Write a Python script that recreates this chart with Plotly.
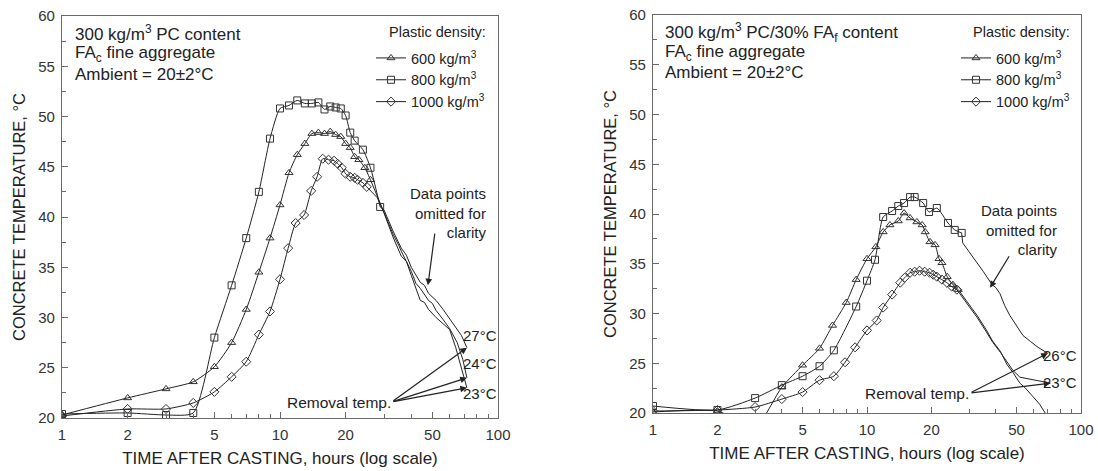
import math
import plotly.graph_objects as go

# ---------------- data: 300 kg/m3 PC (left panel) ----------------
# marked readings (hours, °C)
pc_600_t = [1, 2, 3, 4, 5, 6, 7, 8, 9, 10, 11, 12, 13, 14, 15, 16, 17, 18, 19, 20, 21, 22, 23, 24.5, 26]
pc_600_T = [20.3, 22.0, 22.9, 23.6, 25.1, 27.5, 30.8, 34.5, 37.9, 41.2, 44.4, 46.2, 47.3, 48.3, 48.4,
            48.3, 48.5, 48.2, 48.0, 47.3, 46.9, 46.0, 45.7, 44.9, 43.7]
pc_800_t = [1, 2, 3, 4, 5, 6, 7, 8, 9, 10, 11, 12, 13, 14, 15, 16, 17, 18, 19, 20, 21, 22, 24, 26, 28.8]
pc_800_T = [20.4, 20.5, 20.3, 20.5, 28.0, 33.2, 37.9, 42.5, 47.8, 50.8, 51.1, 51.6, 51.3, 51.3, 51.4,
            50.7, 51.0, 50.9, 50.8, 50.1, 48.4, 47.6, 46.7, 44.9, 41.0]
pc_1000_t = [1, 2, 3, 4, 5, 6, 7, 8, 9, 10, 10.9, 11.8, 12.9, 13.9, 14.8, 15.7, 16.7, 17.7, 18.4, 19.2,
             20, 21, 22, 22.7, 24, 25]
pc_1000_T = [20.2, 20.9, 20.9, 21.5, 22.6, 24.1, 25.6, 28.3, 30.6, 33.8, 36.9, 39.4, 40.2, 42.6, 44.0,
             45.8, 45.7, 45.6, 45.3, 44.9, 44.3, 44.0, 43.9, 43.7, 43.4, 43.0]
# continuous records after the marked readings (markers omitted)
pc_600_tail_t = [28, 30, 33, 35, 36, 40, 42, 44, 48, 50, 52, 56, 60, 65, 69, 72]
pc_600_tail_T = [42.0, 40.5, 38.3, 37.2, 36.6, 34.6, 33.4, 32.9, 31.7, 31.4, 30.7, 29.8, 28.9, 27.5, 25.8, 24.0]
pc_800_tail_t = [30, 33, 36, 38, 40, 44, 46, 48, 52, 56, 60, 64, 68, 72]
pc_800_tail_T = [40.7, 38.6, 36.9, 36.2, 35.0, 33.5, 33.2, 32.4, 31.7, 30.8, 29.9, 29.0, 28.2, 27.0]
pc_1000_tail_t = [27, 28, 30, 33, 36, 38, 40, 44, 46, 48, 52, 56, 60, 64, 68, 72]
pc_1000_tail_T = [42.2, 41.9, 40.4, 38.0, 36.1, 35.6, 34.2, 31.7, 31.5, 30.8, 30.0, 29.4, 28.8, 27.0, 25.0, 23.0]

# ---------------- data: 300 kg/m3 PC / 30% FAf (right panel) ----------------
fa_600_t = [1, 2, 3, 4, 5, 6, 6.9, 8, 8.9, 10, 11, 11.9, 12.8, 14, 14.9, 15.9, 17.1, 18.1, 18.7, 19.7,
            20.8, 21.7, 22.4, 23.7, 25.2, 26.7]
fa_600_T = [20.1, 20.2, 18.6, 22.6, 24.8, 26.5, 28.8, 31.1, 33.4, 35.5, 36.7, 38.2, 38.9, 39.3, 40.1,
            39.6, 39.2, 38.9, 38.2, 37.2, 36.9, 35.5, 35.1, 33.7, 32.9, 32.4]
fa_800_t = [1, 2, 3, 4, 5, 6, 7, 8.9, 10, 10.9, 11.9, 13.1, 14, 14.9, 15.9, 16.7, 18.3, 19.5, 21.2,
            23.9, 25.7, 27.7]
fa_800_T = [20.7, 20.3, 21.5, 22.8, 23.7, 24.7, 26.3, 30.7, 33.3, 35.4, 39.7, 40.3, 40.8, 41.1, 41.7,
            41.7, 41.1, 40.2, 40.6, 39.1, 38.4, 38.1]
fa_1000_t = [1, 2, 3, 4, 5, 6, 7, 7.9, 8.8, 10, 11.1, 11.9, 13.1, 14.3, 15, 15.9, 16.7, 17.6, 18.6,
             19.6, 20.4, 21.2, 22.4, 23.6, 24.9, 26.3]
fa_1000_T = [20.2, 20.3, 20.6, 21.4, 22.1, 23.3, 23.7, 25.1, 26.6, 28.3, 29.3, 30.6, 31.9, 33.1, 33.6,
             34.1, 34.2, 34.3, 34.2, 34.1, 33.9, 33.7, 33.4, 33.1, 32.7, 32.4]
fa_600_tail_t = [28, 30, 32.7, 36, 38.7, 42, 45, 48, 51.8, 55, 60, 64, 68, 72]
fa_600_tail_T = [31.8, 30.9, 29.8, 28.4, 27.2, 26.2, 24.9, 24.1, 23.0, 22.5, 21.6, 20.9, 20.0, 19.4]
fa_800_tail_t = [28, 30, 32.7, 35, 38.4, 40, 41.8, 44, 46.5, 50, 53.5, 58, 63, 70]
fa_800_tail_T = [37.1, 36.2, 35.1, 34.2, 32.9, 32.6, 32.0, 30.8, 29.8, 28.8, 27.8, 27.2, 26.6, 26.0]
fa_1000_tail_t = [28, 30, 32.7, 36, 38.7, 42, 45, 48, 51.8, 55, 60, 67.5, 72]
fa_1000_tail_T = [31.6, 30.7, 29.6, 28.2, 27.1, 26.1, 25.1, 24.3, 23.6, 23.5, 23.3, 23.1, 23.0]

density_labels = ["600 kg/m<sup>3</sup>", "800 kg/m<sup>3</sup>", "1000 kg/m<sup>3</sup>"]
symbols = ["triangle-up-open", "square-open", "diamond-open"]
x_ticks = [1, 2, 5, 10, 20, 50, 100]
x_minor = [3, 4, 6, 7, 8, 9, 30, 40, 60, 70, 80, 90]
y_ticks = [20, 25, 30, 35, 40, 45, 50, 55, 60]

FONT = "Liberation Sans, Arial, Helvetica, sans-serif"
INK = "#222222"
FRAME = "#6a6a6a"
W, H = 1098, 471

fig = go.Figure()

panels = [
    ("x", "y", "legend",
     [(pc_600_t, pc_600_T, pc_600_tail_t, pc_600_tail_T),
      (pc_800_t, pc_800_T, pc_800_tail_t, pc_800_tail_T),
      (pc_1000_t, pc_1000_T, pc_1000_tail_t, pc_1000_tail_T)]),
    ("x2", "y2", "legend2",
     [(fa_600_t, fa_600_T, fa_600_tail_t, fa_600_tail_T),
      (fa_800_t, fa_800_T, fa_800_tail_t, fa_800_tail_T),
      (fa_1000_t, fa_1000_T, fa_1000_tail_t, fa_1000_tail_T)]),
]

for xa, ya, leg, series in panels:
    for i, (t, T, tt, TT) in enumerate(series):
        # unmarked continuation of the record
        fig.add_trace(go.Scatter(
            x=[t[-1]] + tt, y=[T[-1]] + TT, mode="lines",
            line=dict(color=INK, width=1), showlegend=False, hoverinfo="skip",
            xaxis=xa, yaxis=ya))
        # marked readings
        fig.add_trace(go.Scatter(
            x=t, y=T, mode="lines+markers", name=density_labels[i],
            line=dict(color=INK, width=1, shape="spline", smoothing=0.6),
            marker=dict(symbol=symbols[i], size=7, color="#333333",
                        line=dict(width=1, color="#333333")),
            legend=leg, xaxis=xa, yaxis=ya))

axis_common = dict(
    showline=True, linecolor=FRAME, linewidth=1.2, mirror=True, showgrid=False,
    zeroline=False, ticks="inside", ticklen=6, tickcolor=FRAME, tickwidth=1,
    automargin=False,
    tickfont=dict(family=FONT, size=15, color="#333333"),
)
xcommon = dict(axis_common, type="log", range=[0, 2], tickvals=x_ticks,
               ticktext=[str(v) for v in x_ticks], ticklabelstandoff=3,
               minor=dict(tickvals=x_minor, ticks="inside", ticklen=4, tickcolor=FRAME),
               title=dict(text="TIME AFTER CASTING, hours (log scale)",
                          font=dict(family=FONT, size=17, color=INK), standoff=10))
ycommon = dict(axis_common, range=[20, 60], tickvals=y_ticks, ticklabelstandoff=3,
               minor=dict(dtick=2.5, ticks="inside", ticklen=4, tickcolor=FRAME),
               title=dict(text="CONCRETE TEMPERATURE, °C",
                          font=dict(family=FONT, size=16.5, color=INK), standoff=8))

fig.update_layout(
    width=W, height=H, margin=dict(l=0, r=0, t=0, b=0),
    paper_bgcolor="white", plot_bgcolor="white",
    font=dict(family=FONT, color=INK),
    xaxis=dict(xcommon, domain=[62 / W, 498 / W], anchor="y"),
    yaxis=dict(ycommon, domain=[1 - 418 / H, 1 - 16 / H], anchor="x"),
    xaxis2=dict(xcommon, domain=[653 / W, 1081 / W], anchor="y2"),
    yaxis2=dict(ycommon, domain=[1 - 413 / H, 1 - 15 / H], anchor="x2"),
    legend=dict(x=371 / W, y=1 - 42 / H, xanchor="left", yanchor="top",
                bgcolor="rgba(0,0,0,0)", font=dict(family=FONT, size=14.5, color=INK),
                itemwidth=30, tracegroupgap=0),
    legend2=dict(x=956 / W, y=1 - 42 / H, xanchor="left", yanchor="top",
                 bgcolor="rgba(0,0,0,0)", font=dict(family=FONT, size=14.5, color=INK),
                 itemwidth=30, tracegroupgap=0),
    showlegend=True,
)


def px_note(text, x, y, size=15, xanchor="left", align="left"):
    fig.add_annotation(text=text, x=x / W, y=1 - y / H, xref="paper", yref="paper",
                       xanchor=xanchor, yanchor="middle", align=align, showarrow=False,
                       font=dict(family=FONT, size=size, color=INK))


# mix descriptions
px_note("300 kg/m<sup>3</sup> PC content", 73, 33, size=17)
px_note("FA<sub>c</sub> fine aggregate", 73, 54, size=17)
px_note("Ambient = 20±2°C", 73, 75, size=17)
px_note("300 kg/m<sup>3</sup> PC/30% FA<sub>f</sub> content", 663, 33, size=17)
px_note("FA<sub>c</sub> fine aggregate", 663, 53, size=17)
px_note("Ambient = 20±2°C", 663, 73, size=17)

# legend headings
px_note("Plastic density:", 488, 32, size=14.5, xanchor="right")
px_note("Plastic density:", 1072, 32, size=14.5, xanchor="right")

# omitted-data notes
px_note("Data points<br>omitted for<br>clarity", 488, 213, size=15, xanchor="right", align="right")
px_note("Data points<br>omitted for<br>clarity", 1059, 230, size=15, xanchor="right", align="right")

# removal temperatures
px_note("27°C", 499, 335, size=15, xanchor="right")
px_note("24°C", 499, 363, size=15, xanchor="right")
px_note("23°C", 499, 393, size=15, xanchor="right")
px_note("26°C", 1079, 355, size=15, xanchor="right")
px_note("23°C", 1079, 382, size=15, xanchor="right")
px_note("Removal temp.", 393, 402, size=15.5, xanchor="right")
px_note("Removal temp.", 971, 393, size=15.5, xanchor="right")


def arrow(xa, ya, tip, tail):
    fig.add_annotation(x=math.log10(tip[0]), y=tip[1], ax=math.log10(tail[0]), ay=tail[1],
                       xref=xa, yref=ya, axref=xa, ayref=ya, text="", showarrow=True,
                       arrowhead=2, arrowsize=1.1, arrowwidth=1.2, arrowcolor=INK, standoff=0)


# arrows towards the unmarked records
arrow("x", "y", (47.7, 33.2), (51.4, 38.5))
arrow("x2", "y2", (37.6, 32.6), (46.6, 35.9))

# arrows from "Removal temp." to the final readings
for tt, TT in [(pc_800_tail_t, pc_800_tail_T), (pc_600_tail_t, pc_600_tail_T),
               (pc_1000_tail_t, pc_1000_tail_T)]:
    arrow("x", "y", (tt[-1], TT[-1]), (32.6, 21.6))
for tt, TT in [(fa_800_tail_t, fa_800_tail_T), (fa_1000_tail_t, fa_1000_tail_T)]:
    arrow("x2", "y2", (tt[-1], TT[-1]), (30.3, 22.0))

fig.write_html("out.html")
